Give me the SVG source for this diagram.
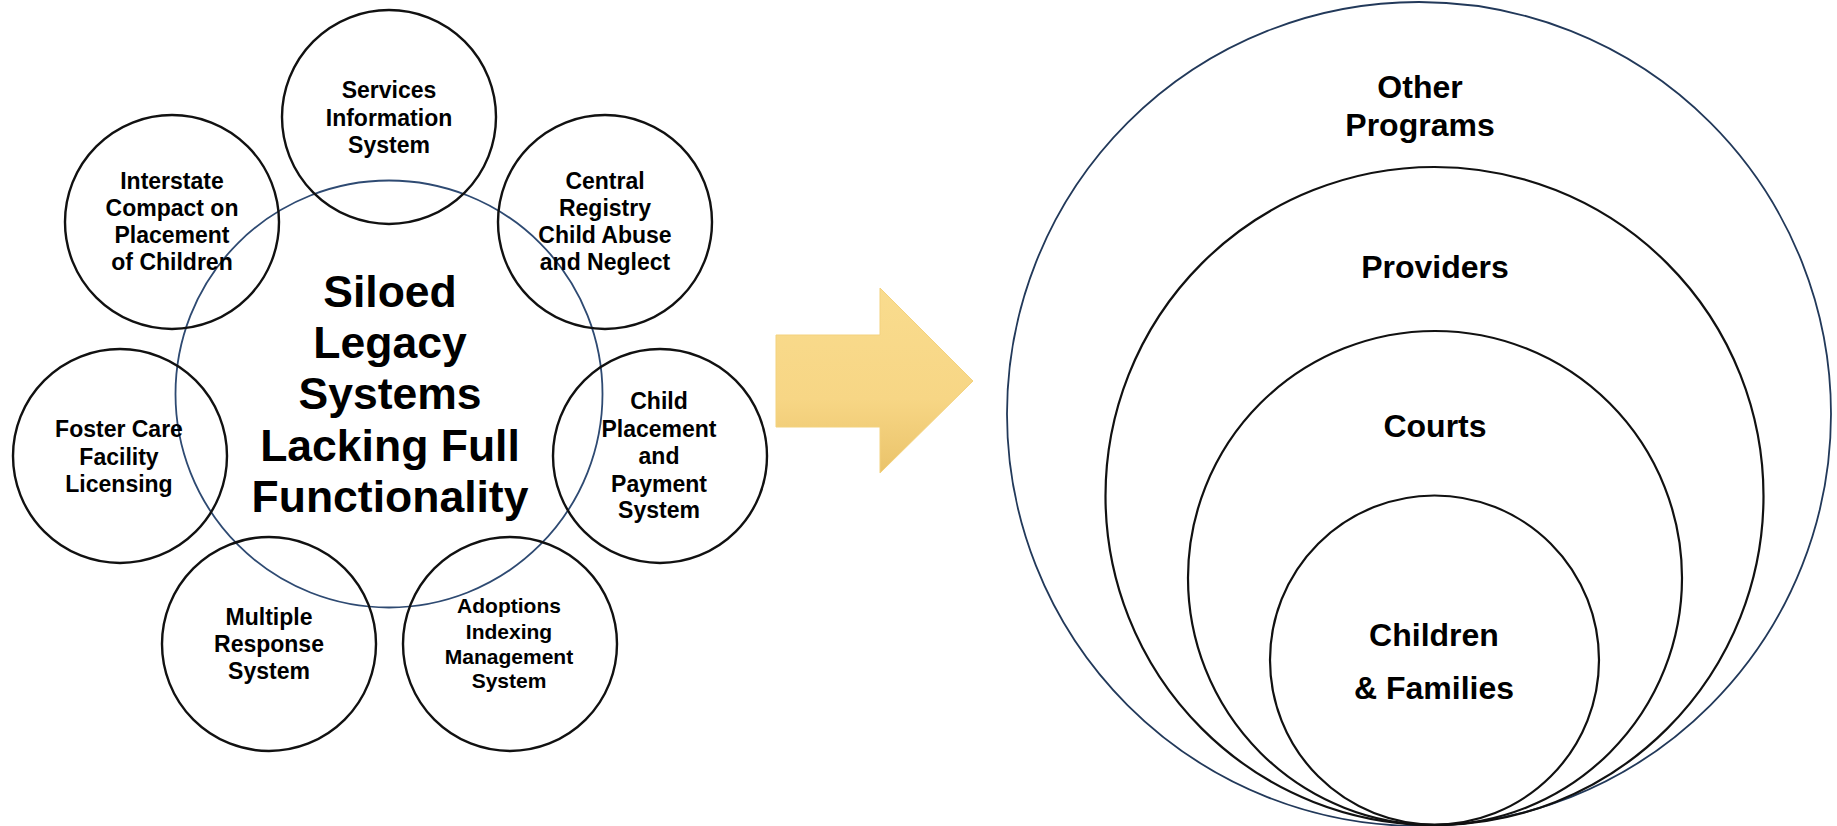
<svg xmlns="http://www.w3.org/2000/svg" width="1837" height="826" viewBox="0 0 1837 826">
<defs>
<linearGradient id="arrowGrad" x1="0" y1="0" x2="0" y2="1">
<stop offset="0" stop-color="#F9DC8E"/>
<stop offset="0.6" stop-color="#F7D685"/>
<stop offset="1" stop-color="#EAC36A"/>
</linearGradient>
<style>
.sat{fill:none;stroke:#111;stroke-width:2.4}
.hub{fill:none;stroke:#2E4A72;stroke-width:1.8}
.ring{fill:none;stroke:#111;stroke-width:2.2}
.outer{fill:none;stroke:#22395A;stroke-width:1.8}
text{font-family:"Liberation Sans",Arial,sans-serif;font-weight:bold;fill:#000;text-anchor:middle}
.s{font-size:23px}
.sm{font-size:21px}
.big{font-size:44.5px}
.r{font-size:32px}
</style>
</defs>
<rect width="1837" height="826" fill="#fff"/>

<g id="hub">
<circle class="hub" cx="389" cy="394" r="213.5"/>
<text class="big" x="390" y="307">Siloed</text>
<text class="big" x="390" y="358">Legacy</text>
<text class="big" x="390" y="409">Systems</text>
<text class="big" x="390" y="461">Lacking Full</text>
<text class="big" x="390" y="512">Functionality</text>
</g>

<g id="services">
<circle class="sat" cx="389" cy="117" r="107"/>
<text class="s" x="389" y="98">Services</text>
<text class="s" x="389" y="126">Information</text>
<text class="s" x="389" y="153">System</text>
</g>

<g id="interstate">
<circle class="sat" cx="172" cy="222" r="107"/>
<text class="s" x="172" y="189">Interstate</text>
<text class="s" x="172" y="216">Compact on</text>
<text class="s" x="172" y="243">Placement</text>
<text class="s" x="172" y="270">of Children</text>
</g>

<g id="central-registry">
<circle class="sat" cx="605" cy="222" r="107"/>
<text class="s" x="605" y="189">Central</text>
<text class="s" x="605" y="216">Registry</text>
<text class="s" x="605" y="243">Child Abuse</text>
<text class="s" x="605" y="270">and Neglect</text>
</g>

<g id="foster-care">
<circle class="sat" cx="120" cy="456" r="107"/>
<text class="s" x="119" y="437">Foster Care</text>
<text class="s" x="119" y="465">Facility</text>
<text class="s" x="119" y="492">Licensing</text>
</g>

<g id="child-placement">
<circle class="sat" cx="660" cy="456" r="107"/>
<text class="s" x="659" y="409">Child</text>
<text class="s" x="659" y="437">Placement</text>
<text class="s" x="659" y="464">and</text>
<text class="s" x="659" y="492">Payment</text>
<text class="s" x="659" y="518">System</text>
</g>

<g id="multiple-response">
<circle class="sat" cx="269" cy="644" r="107"/>
<text class="s" x="269" y="625">Multiple</text>
<text class="s" x="269" y="652">Response</text>
<text class="s" x="269" y="679">System</text>
</g>

<g id="adoptions">
<circle class="sat" cx="510" cy="644" r="107"/>
<text class="sm" x="509" y="613">Adoptions</text>
<text class="sm" x="509" y="639">Indexing</text>
<text class="sm" x="509" y="664">Management</text>
<text class="sm" x="509" y="688">System</text>
</g>

<g id="connectors">
<polygon points="776,335 880,335 880,288 973,381 880,473 880,427 776,427" fill="url(#arrowGrad)" stroke="#F3D27E" stroke-width="1"/>
</g>

<g id="other-programs">
<circle class="outer" cx="1419" cy="414" r="412"/>
<text class="r" x="1420" y="98">Other</text>
<text class="r" x="1420" y="136">Programs</text>
</g>

<g id="providers">
<circle class="ring" cx="1434.5" cy="496" r="329"/>
<text class="r" x="1435" y="278">Providers</text>
</g>

<g id="courts">
<circle class="ring" cx="1435" cy="578" r="247"/>
<text class="r" x="1435" y="437">Courts</text>
</g>

<g id="children-families">
<circle class="ring" cx="1434.5" cy="660" r="164.5"/>
<text class="r" x="1434" y="646">Children</text>
<text class="r" x="1434" y="699">&amp; Families</text>
</g>
</svg>
